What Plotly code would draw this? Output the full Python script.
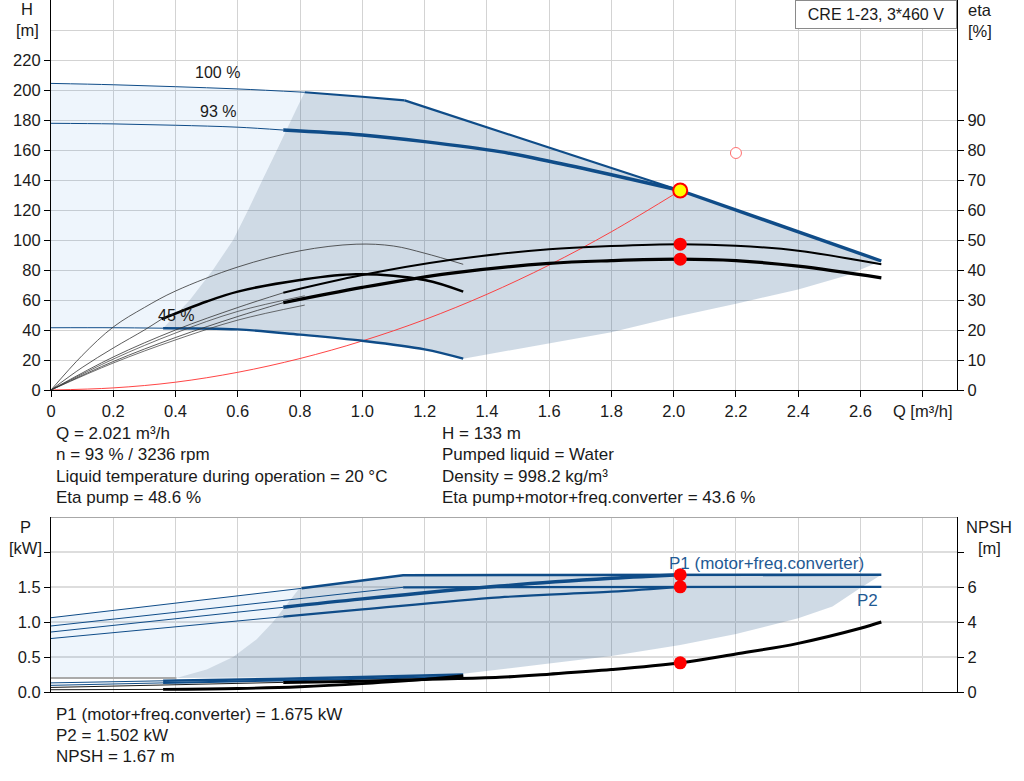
import numpy as np
import plotly.graph_objects as go

# ---------------- data ----------------
# Top chart: head curves (Q in m3/h, H in m)
Q_max = [0, 0.2, 0.4, 0.6, 0.815, 1.0, 1.136, 1.4, 1.6, 1.8, 2.021, 2.2, 2.4, 2.667]
H_max = [204.4, 203.5, 202.2, 200.7, 198.5, 195.5, 193.1, 175.2, 161.6, 148.0, 133.0, 120.0, 105.4, 86.0]

Q_93 = [0, 0.2, 0.4, 0.6, 0.746, 1.0, 1.2, 1.441, 1.6, 1.8, 2.021]
H_93 = [177.8, 177.4, 176.5, 175.2, 173.3, 170.0, 165.6, 158.9, 152.5, 143.5, 133.0]

Q_45 = [0, 0.2, 0.36, 0.6, 0.8, 1.0, 1.2, 1.324]
H_45 = [41.5, 41.5, 41.2, 40.4, 36.9, 32.8, 27.1, 20.9]

Q_edge = [0.36, 0.446, 0.52, 0.585, 0.633, 0.68, 0.72, 0.76, 0.79, 0.815]
H_edge = [41.2, 60.0, 80.0, 100.0, 120.0, 140.0, 158.0, 175.0, 188.0, 198.5]

Q_low = [1.324, 1.441, 1.6, 1.8, 2.0, 2.2, 2.4, 2.55, 2.667]
H_low = [20.9, 25.0, 31.0, 38.5, 48.5, 57.5, 67.0, 76.0, 86.0]

Q_sys = [0, 0.2, 0.4, 0.6, 0.8, 1.0, 1.2, 1.4, 1.6, 1.8, 2.021]
H_sys = [0, 1.4, 5.2, 11.8, 21.0, 32.7, 46.9, 63.8, 83.3, 105.5, 133.0]

# efficiency curves (eta %)
Q_e93 = [0, 0.2, 0.4, 0.6, 0.746, 1.0, 1.281, 1.6, 1.8, 2.021, 2.2, 2.4, 2.667]
Eta_p93 = [0, 11.0, 20.0, 27.5, 32.4, 38.3, 43.3, 46.9, 48.0, 48.6, 48.1, 46.4, 41.9]
Eta_t93 = [0, 9.5, 17.5, 24.5, 29.1, 34.2, 38.9, 42.2, 43.1, 43.6, 43.1, 41.3, 37.4]

Q_e100 = [0, 0.2, 0.4, 0.6, 0.815]
Eta_p100 = [0, 10.3, 19.0, 26.2, 31.4]
Eta_t100 = [0, 9.0, 16.7, 23.3, 28.3]

Q_ep45 = [0, 0.1, 0.2, 0.3, 0.4, 0.6, 0.8, 0.98, 1.1, 1.2, 1.324]
Eta_p45 = [0, 11.5, 21.0, 27.5, 33.0, 41.0, 46.4, 48.6, 48.0, 45.6, 41.9]

Q_et45 = [0, 0.1, 0.2, 0.3, 0.355, 0.5, 0.6, 0.8, 0.98, 1.2, 1.324]
Eta_t45 = [0, 7.5, 14.0, 20.0, 23.6, 29.5, 32.8, 36.7, 38.6, 36.7, 32.8]

# duty point
Q_op = [2.021]
H_op = [133.0]
Eta_op = [48.6, 43.6]
Q_req = [2.2]
H_req = [158.0]

# Bottom chart: power (kW) and NPSH (m)
Q_P1max = [0, 0.805, 1.131, 1.6, 2.021, 2.667]
P1_max = [1.061, 1.481, 1.667, 1.672, 1.675, 1.675]

Q_P2max = [0, 0.746, 1.131, 2.021, 2.667]
P2_max = [0.943, 1.31, 1.496, 1.502, 1.502]

Q_P93 = [0, 0.746, 1.0, 1.441, 1.8, 2.021]
P1_93 = [0.857, 1.21, 1.33, 1.514, 1.624, 1.675]
P2_93 = [0.764, 1.076, 1.18, 1.353, 1.433, 1.502]

Q_P45 = [0, 0.36, 0.746, 1.0, 1.324]
P1_45 = [0.13, 0.16, 0.19, 0.215, 0.25]
P2_45 = [0.095, 0.13, 0.165, 0.19, 0.22]

Q_N45 = [0, 0.36, 0.6, 0.8, 1.0, 1.2, 1.324]
NPSH_45 = [0.13, 0.15, 0.2, 0.3, 0.48, 0.72, 0.93]

Q_N93 = [0, 0.746, 1.0, 1.2, 1.441, 1.6, 1.8, 2.021, 2.2, 2.4, 2.6, 2.667]
NPSH_93 = [0.26, 0.55, 0.62, 0.72, 0.84, 1.02, 1.28, 1.67, 2.17, 2.78, 3.64, 4.0]

Q_Pedge = [0.403, 0.5, 0.585, 0.66, 0.713, 0.751, 0.794, 0.805]
P_edge = [0.2, 0.32, 0.5, 0.75, 1.0, 1.22, 1.46, 1.481]

Q_Plow = [2.667, 2.597, 2.51, 2.4, 2.2, 2.021, 1.8, 1.6, 1.441, 1.324, 1.131, 0.8, 0.403]
P_low = [1.675, 1.48, 1.22, 1.053, 0.829, 0.671, 0.514, 0.408, 0.324, 0.26, 0.23, 0.21, 0.2]

Q_Pbase = [0, 0.403]
P_base = [0.2, 0.2]

P_op = [1.675, 1.502]
NPSH_op = [1.67]

x_ticks = [0, 0.2, 0.4, 0.6, 0.8, 1.0, 1.2, 1.4, 1.6, 1.8, 2.0, 2.2, 2.4, 2.6, 2.8]
x_labels = ["0", "0.2", "0.4", "0.6", "0.8", "1.0", "1.2", "1.4", "1.6", "1.8",
            "2.0", "2.2", "2.4", "2.6", "Q [m³/h]"]
h_ticks = [0, 20, 40, 60, 80, 100, 120, 140, 160, 180, 200, 220]
eta_ticks = [0, 10, 20, 30, 40, 50, 60, 70, 80, 90]
p_ticks = [0, 0.5, 1.0, 1.5, 2.0]
p_labels = ["0.0", "0.5", "1.0", "1.5", ""]
n_ticks = [0, 2, 4, 6, 8]
n_labels = ["0", "2", "4", "6", ""]

info_left = ["Q = 2.021 m³/h", "n = 93 % / 3236 rpm",
             "Liquid temperature during operation = 20 °C", "Eta pump = 48.6 %"]
info_right = ["H = 133 m", "Pumped liquid = Water", "Density = 998.2 kg/m³",
              "Eta pump+motor+freq.converter = 43.6 %"]
info_bottom = ["P1 (motor+freq.converter) = 1.675 kW", "P2 = 1.502 kW", "NPSH = 1.67 m"]

# ---------------- styling ----------------
FONT = "Liberation Sans, Arial, sans-serif"
BLUE = "#0f4c88"
DARK_FILL = "rgba(30,80,130,0.21)"
LIGHT_FILL = "rgba(30,120,220,0.076)"
GRID = "#d3d3d3"
TXT = "#1a1a1a"
TICK_SIZE = 16.5
TEXT_SIZE = 17

fig = go.Figure()


def part(q, v, lo, hi):
    q = np.asarray(q, float)
    v = np.asarray(v, float)
    m = (q >= lo - 1e-9) & (q <= hi + 1e-9)
    return q[m], v[m]


def line(q, v, color, width, xa="x", ya="y", shape="spline"):
    fig.add_trace(go.Scatter(x=q, y=v, mode="lines", xaxis=xa, yaxis=ya,
                             line=dict(color=color, width=width, shape=shape),
                             hoverinfo="skip", showlegend=False))


def poly(q, v, color, xa="x", ya="y"):
    fig.add_trace(go.Scatter(x=q, y=v, mode="lines", fill="toself", fillcolor=color,
                             line=dict(width=0), xaxis=xa, yaxis=ya,
                             hoverinfo="skip", showlegend=False))


# ---- top fills ----
q45a, h45a = part(Q_45, H_45, 0, 0.36)
qmA, hmA = part(Q_max, H_max, 0, 0.815)
poly(list(q45a) + Q_edge[1:] + list(qmA[::-1]),
     list(h45a) + H_edge[1:] + list(hmA[::-1]), LIGHT_FILL)

qmB, hmB = part(Q_max, H_max, 0.815, 2.667)
q45b, h45b = part(Q_45, H_45, 0.36, 1.324)
poly(Q_edge + list(qmB[1:]) + Q_low[::-1][1:] + list(q45b[::-1][1:]),
     H_edge + list(hmB[1:]) + H_low[::-1][1:] + list(h45b[::-1][1:]), DARK_FILL)

# ---- bottom fills ----
qpA, ppA = part(Q_P1max, P1_max, 0, 0.805)
poly(Q_Pbase + Q_Pedge[1:] + list(qpA[::-1]),
     P_base + P_edge[1:] + list(ppA[::-1]), LIGHT_FILL, "x2", "y3")
qpB, ppB = part(Q_P1max, P1_max, 0.805, 2.667)
poly(Q_Pedge + list(qpB[1:]) + Q_Plow[1:],
     P_edge + list(ppB[1:]) + P_low[1:], DARK_FILL, "x2", "y3")

# ---- top: efficiency curves (eta axis) ----
for qq, ee in [(Q_e100, Eta_p100), (Q_e100, Eta_t100)]:
    line(qq, ee, "#333333", 0.7, ya="y2")
line(Q_ep45, Eta_p45, "#333333", 0.8, ya="y2")
q, e = part(Q_et45, Eta_t45, 0, 0.355); line(q, e, "#333333", 0.8, ya="y2")
q, e = part(Q_et45, Eta_t45, 0.355, 1.324); line(q, e, "black", 2.5, ya="y2")
q, e = part(Q_e93, Eta_p93, 0, 0.746); line(q, e, "#333333", 0.8, ya="y2")
q, e = part(Q_e93, Eta_p93, 0.746, 2.667); line(q, e, "black", 2.0, ya="y2")
q, e = part(Q_e93, Eta_t93, 0, 0.746); line(q, e, "#333333", 0.8, ya="y2")
q, e = part(Q_e93, Eta_t93, 0.746, 2.667); line(q, e, "black", 3.2, ya="y2")

# ---- top: system curve ----
line(Q_sys, H_sys, "#ff3030", 0.9)

# ---- top: head curves ----
q, h = part(Q_max, H_max, 0, 0.815); line(q, h, BLUE, 1.0)
q, h = part(Q_max, H_max, 0.815, 1.136); line(q, h, BLUE, 2.2)
q, h = part(Q_max, H_max, 1.136, 2.021); line(q, h, BLUE, 2.2, shape="linear")
q, h = part(Q_max, H_max, 2.021, 2.667); line(q, h, BLUE, 3.4, shape="linear")
q, h = part(Q_93, H_93, 0, 0.746); line(q, h, BLUE, 1.0)
q, h = part(Q_93, H_93, 0.746, 2.021); line(q, h, BLUE, 3.4)
q, h = part(Q_45, H_45, 0, 0.36); line(q, h, BLUE, 1.0)
q, h = part(Q_45, H_45, 0.36, 1.324); line(q, h, BLUE, 2.4)

# ---- top markers ----
fig.add_trace(go.Scatter(x=Q_req, y=H_req, mode="markers", xaxis="x", yaxis="y",
                         marker=dict(size=11, color="white", line=dict(color="#ff7070", width=1)),
                         hoverinfo="skip", showlegend=False))
fig.add_trace(go.Scatter(x=Q_op * 2, y=Eta_op, mode="markers", xaxis="x", yaxis="y2",
                         marker=dict(size=13, color="#ff0000"),
                         hoverinfo="skip", showlegend=False))
fig.add_trace(go.Scatter(x=Q_op, y=H_op, mode="markers", xaxis="x", yaxis="y",
                         marker=dict(size=14, color="#ffff00", line=dict(color="#ff0000", width=2)),
                         hoverinfo="skip", showlegend=False))

# ---- bottom curves ----
line(Q_Pbase, P_base, "#aaaaaa", 2.0, "x2", "y3", shape="linear")
q, n = part(Q_N93, NPSH_93, 0, 0.746); line(q, n, "black", 0.9, "x2", "y4")
q, n = part(Q_N93, NPSH_93, 0.746, 2.667); line(q, n, "black", 3.0, "x2", "y4")
q, n = part(Q_N45, NPSH_45, 0, 0.36); line(q, n, "black", 0.9, "x2", "y4")
q, n = part(Q_N45, NPSH_45, 0.36, 1.324); line(q, n, "black", 2.8, "x2", "y4")
q, p = part(Q_P45, P1_45, 0, 0.36); line(q, p, BLUE, 1.0, "x2", "y3")
q, p = part(Q_P45, P1_45, 0.36, 1.324); line(q, p, BLUE, 2.6, "x2", "y3")
q, p = part(Q_P45, P2_45, 0, 0.36); line(q, p, BLUE, 1.0, "x2", "y3")
q, p = part(Q_P45, P2_45, 0.36, 1.324); line(q, p, BLUE, 2.0, "x2", "y3")

q, p = part(Q_P1max, P1_max, 0, 0.805); line(q, p, BLUE, 1.0, "x2", "y3", shape="linear")
q, p = part(Q_P1max, P1_max, 0.805, 2.667); line(q, p, BLUE, 2.6, "x2", "y3", shape="linear")
q, p = part(Q_P2max, P2_max, 0, 1.131); line(q, p, BLUE, 1.0, "x2", "y3", shape="linear")
q, p = part(Q_P2max, P2_max, 1.131, 2.667); line(q, p, BLUE, 2.2, "x2", "y3", shape="linear")
q, p = part(Q_P93, P1_93, 0, 0.746); line(q, p, BLUE, 1.0, "x2", "y3")
q, p = part(Q_P93, P1_93, 0.746, 2.021); line(q, p, BLUE, 3.4, "x2", "y3")
q, p = part(Q_P93, P2_93, 0, 0.746); line(q, p, BLUE, 1.0, "x2", "y3")
q, p = part(Q_P93, P2_93, 0.746, 2.021); line(q, p, BLUE, 2.2, "x2", "y3")

fig.add_trace(go.Scatter(x=Q_op * 2, y=P_op, mode="markers", xaxis="x2", yaxis="y3",
                         marker=dict(size=13, color="#ff0000"),
                         hoverinfo="skip", showlegend=False))
fig.add_trace(go.Scatter(x=Q_op, y=NPSH_op, mode="markers", xaxis="x2", yaxis="y4",
                         marker=dict(size=13, color="#ff0000"),
                         hoverinfo="skip", showlegend=False))

# ---------------- layout ----------------
L, R, B = 51, 957, 692  # pixel frame of plotting area
H_TOP, H_BOT_T = 390, 517


def px(x, y):
    return (x - L) / (R - L), (B - y) / B


tickfont = dict(family=FONT, size=TICK_SIZE, color=TXT)
axis_common = dict(showline=True, linecolor="black", linewidth=1.2, zeroline=False,
                   ticks="outside", ticklen=6, tickcolor="black", tickfont=tickfont)

fig.update_layout(
    width=1024, height=781,
    margin=dict(l=L, r=1024 - R, t=0, b=781 - B),
    paper_bgcolor="white", plot_bgcolor="white",
    showlegend=False,
    font=dict(family=FONT, size=TEXT_SIZE, color=TXT),
    xaxis=dict(domain=[0, 1], range=[0, 2.91], anchor="y", tickmode="array",
               tickvals=x_ticks, ticktext=x_labels, showgrid=True, gridcolor=GRID,
               gridwidth=1, **axis_common),
    yaxis=dict(domain=[(B - H_TOP) / B, 1], range=[0, 260], anchor="x", tickmode="array",
               tickvals=h_ticks, showgrid=True, gridcolor=GRID, gridwidth=1,
               minor=dict(tickmode="array", tickvals=[240], showgrid=True, gridcolor=GRID,
                          ticks=""),
               **axis_common),
    yaxis2=dict(overlaying="y", side="right", range=[0, 130], anchor="x", tickmode="array",
                tickvals=eta_ticks, showgrid=False, **axis_common),
    xaxis2=dict(domain=[0, 1], range=[0, 2.91], anchor="y3", tickmode="array",
                tickvals=x_ticks, showticklabels=False, showgrid=True, gridcolor=GRID,
                showline=True, linecolor="black", linewidth=1.2, zeroline=False, ticks=""),
    yaxis3=dict(domain=[0, (B - H_BOT_T) / B], range=[0, 2.5], anchor="x2", tickmode="array",
                tickvals=p_ticks, ticktext=p_labels, showgrid=True, gridcolor="#dddddd",
                gridwidth=1.5, **axis_common),
    yaxis4=dict(overlaying="y3", side="right", range=[0, 10], anchor="x2", tickmode="array",
                tickvals=n_ticks, ticktext=n_labels, showgrid=False, **axis_common),
)

# frame line at the top of the lower chart
fig.add_shape(type="line", xref="x2", yref="y3", x0=0, x1=2.91, y0=2.5, y1=2.5,
              line=dict(color="#a8a8a8", width=2))

ann = []


def add_text(x, y, text, xanchor="center", size=TEXT_SIZE, color=TXT, xref="paper", yref="paper"):
    ann.append(dict(x=x, y=y, xref=xref, yref=yref, text=text, showarrow=False,
                    xanchor=xanchor, yanchor="middle", font=dict(family=FONT, size=size, color=color)))


# axis titles
for (x, y, t) in [(27, 9, "H"), (27, 30, "[m]"), (980, 10, "eta"), (980, 31, "[%]"),
                  (25, 527, "P"), (25, 548, "[kW]"), (989, 527, "NPSH"), (989, 548, "[m]")]:
    xp, yp = px(x, y)
    add_text(xp, yp, t, size=TICK_SIZE)

# curve labels
add_text(0.536, 211.5, "100 %", size=16, xref="x", yref="y")
add_text(0.536, 185.5, "93 %", size=16, xref="x", yref="y")
add_text(0.401, 49.5, "45 %", size=16, xref="x", yref="y")
add_text(2.299, 1.83, "P1 (motor+freq.converter)", color="#1f5a94", xref="x2", yref="y3")
add_text(2.623, 1.31, "P2", color="#1f5a94", xref="x2", yref="y3")

# info text blocks
for i, t in enumerate(info_left):
    xp, yp = px(54, 433 + i * 21.6)
    add_text(xp, yp, t, xanchor="left")
for i, t in enumerate(info_right):
    xp, yp = px(440, 433 + i * 21.6)
    add_text(xp, yp, t, xanchor="left")
for i, t in enumerate(info_bottom):
    xp, yp = px(54, 714 + i * 21.2)
    add_text(xp, yp, t, xanchor="left")

# product box
ann.append(dict(x=1.0, y=1.0, xref="paper", yref="paper", text="CRE 1-23, 3*460 V",
                showarrow=False, xanchor="right", yanchor="top", width=152, height=19,
                borderpad=4, bordercolor="#8a8a8a", borderwidth=1, bgcolor="white",
                font=dict(family=FONT, size=16, color=TXT)))

fig.update_layout(annotations=ann)

fig.write_html("out.html", config={"displayModeBar": False},
               post_script="document.body.style.margin='0';document.body.style.overflow='hidden';")
